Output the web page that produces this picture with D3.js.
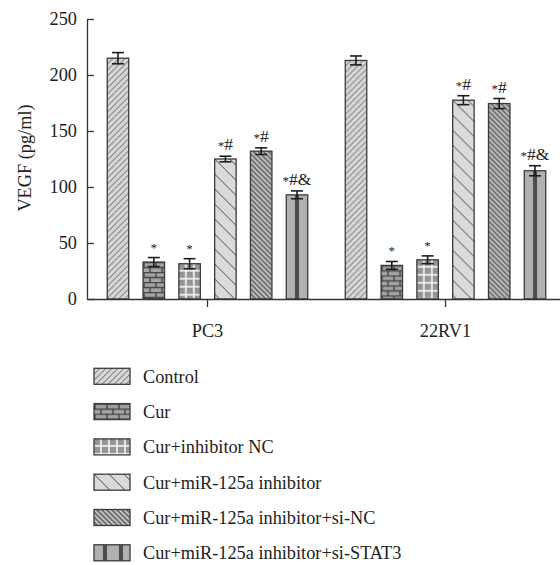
<!DOCTYPE html>
<html><head><meta charset="utf-8">
<script src="https://cdn.jsdelivr.net/npm/d3@7"></script>
<style>body{margin:0;background:#fff}</style></head><body>
<svg id="c" width="560" height="565"></svg>
<script>
const groups = ["PC3", "22RV1"];
const series = ["Control", "Cur", "Cur+inhibitor NC", "Cur+miR-125a inhibitor",
  "Cur+miR-125a inhibitor+si-NC", "Cur+miR-125a inhibitor+si-STAT3"];
const valuesPC3 = [215, 33, 31.5, 125, 132, 93];
const values22RV1 = [213, 30, 35, 177.5, 174.5, 114.5];
const errorsPC3 = [5, 4, 4.5, 2.5, 3, 3.5];
const errors22RV1 = [4, 3.5, 3.5, 4, 4.5, 4.5];
const marks = ["", "*", "*", "*#", "*#", "*#&"];
const yTicks = [0, 50, 100, 150, 200, 250];

const FONT = "'Liberation Serif','Times New Roman',serif";
const FS = 18.3;
const svg = d3.select("#c");
const defs = svg.append("defs");

const rows = [];
groups.forEach((g, gi) => {
  const vals = gi === 0 ? valuesPC3 : values22RV1;
  const errs = gi === 0 ? errorsPC3 : errors22RV1;
  series.forEach((s, si) => rows.push({group: g, series: s, si, value: vals[si], err: errs[si], mark: marks[si]}));
});

const y = d3.scaleLinear().domain([0, 250]).range([299, 19]);
const x0 = d3.scaleBand().domain(groups).range([87, 566]).paddingInner(0.0975).paddingOuter(0.055);
const x1 = d3.scaleBand().domain(series).range([0, x0.bandwidth()]).paddingInner(0.4).paddingOuter(0.2);

// pattern factory
function makePattern(id, kind, ox, oy) {
  const specs = [
    {w: 6, h: 6}, {w: 12, h: 10}, {w: 8, h: 8}, {w: 15, h: 15}, {w: 5, h: 5}, {w: 16, h: 10}
  ];
  const sp = specs[kind];
  const p = defs.append("pattern").attr("id", id).attr("patternUnits", "userSpaceOnUse")
    .attr("x", ox).attr("y", oy).attr("width", sp.w).attr("height", sp.h);
  if (kind === 0) {
    p.append("rect").attr("width", 6).attr("height", 6).attr("fill", "#d6d6d6");
    p.append("path").attr("d", "M-1,7 L7,-1 M-1,1 L1,-1 M5,7 L7,5").attr("stroke", "#585858").attr("stroke-width", 0.9);
  } else if (kind === 1) {
    p.append("rect").attr("width", 12).attr("height", 10).attr("fill", "#a4a4a4");
    p.append("path").attr("d", "M0,0.5 H12 M0,5.5 H12 M1,0 V5.5 M7,5.5 V10").attr("stroke", "#454545").attr("stroke-width", 1.4);
  } else if (kind === 2) {
    p.append("rect").attr("width", 8).attr("height", 8).attr("fill", "#959595");
    p.append("path").attr("d", "M7,0 V8 M0,7 H8").attr("stroke", "#ffffff").attr("stroke-width", 1.5);
  } else if (kind === 3) {
    p.append("rect").attr("width", 15).attr("height", 15).attr("fill", "#dadada");
    p.append("path").attr("d", "M-1,-1 L16,16 M14,-1 L16,1 M-1,14 L1,16").attr("stroke", "#4a4a4a").attr("stroke-width", 1);
  } else if (kind === 4) {
    p.append("rect").attr("width", 5).attr("height", 5).attr("fill", "#6e6e6e");
    p.append("path").attr("d", "M-1,-1 L6,6 M4,-1 L6,1 M-1,4 L1,6").attr("stroke", "#f2f2f2").attr("stroke-width", 1.2);
  } else {
    p.append("rect").attr("width", 16).attr("height", 10).attr("fill", "#b0b0b0");
    p.append("rect").attr("x", 6).attr("width", 4).attr("height", 10).attr("fill", "#4d4d4d");
  }
  return "url(#" + id + ")";
}

// bars
const barG = svg.append("g");
rows.forEach((d, i) => {
  const bx = x0(d.group) + x1(d.series);
  const bw = x1.bandwidth();
  const fill = makePattern("pb" + i, d.si, d.si === 5 ? bx + bw / 2 - 8 : bx, y(d.value));
  barG.append("rect").attr("x", bx).attr("y", y(d.value)).attr("width", bw)
    .attr("height", y(0) - y(d.value)).attr("fill", fill)
    .attr("stroke", "#3a3a3a").attr("stroke-width", 1.3);
  const cx = bx + bw / 2;
  const eg = barG.append("g").attr("stroke", "#1e1e1e").attr("stroke-width", 1.6);
  eg.append("line").attr("x1", cx).attr("x2", cx).attr("y1", y(d.value - d.err)).attr("y2", y(d.value + d.err));
  eg.append("line").attr("x1", cx - 6).attr("x2", cx + 6).attr("y1", y(d.value + d.err)).attr("y2", y(d.value + d.err));
  eg.append("line").attr("x1", cx - 6).attr("x2", cx + 6).attr("y1", y(d.value - d.err)).attr("y2", y(d.value - d.err));
  if (d.mark) {
    const t = barG.append("text").attr("x", cx).attr("y", y(d.value + d.err) - 6)
      .attr("text-anchor", "middle").attr("font-family", FONT).attr("font-size", 17.5).attr("fill", "#222");
    d.mark.split("").forEach(ch => {
      if (ch === "*") t.append("tspan").attr("font-size", 13).text("*");
      else t.append("tspan").text(ch);
    });
  }
});

// y axis
const yAxis = d3.axisLeft(y).tickValues(yTicks).tickSizeInner(-7).tickSizeOuter(0).tickPadding(10);
const yg = svg.append("g").attr("transform", "translate(87,0)").call(yAxis);
yg.selectAll("path,line").attr("stroke", "#333").attr("stroke-width", 1.3);
yg.selectAll("text").attr("font-family", FONT).attr("font-size", FS).attr("fill", "#222");

// x axis
const xAxis = d3.axisBottom(x0).tickSizeInner(8).tickSizeOuter(0).tickPadding(17);
const xg = svg.append("g").attr("transform", "translate(0,299)").call(xAxis);
xg.selectAll("path,line").attr("stroke", "#333").attr("stroke-width", 1.3);
xg.selectAll("text").attr("font-family", FONT).attr("font-size", FS).attr("fill", "#222");

// y title
svg.append("text").attr("transform", "translate(31,158) rotate(-90)").attr("text-anchor", "middle")
  .attr("font-family", FONT).attr("font-size", FS).attr("fill", "#222").text("VEGF (pg/ml)");

// legend
const lg = svg.append("g");
series.forEach((s, i) => {
  const top = 368.3 + i * 35.3;
  const fill = makePattern("pl" + i, i, i === 5 ? 94 + 3 : 94, top);
  lg.append("rect").attr("x", 94).attr("y", top).attr("width", 36).attr("height", 16)
    .attr("fill", fill).attr("stroke", "#3a3a3a").attr("stroke-width", 1.3);
  lg.append("text").attr("x", 143).attr("y", top + 8).attr("dy", "0.35em")
    .attr("font-family", FONT).attr("font-size", FS).attr("fill", "#222").text(s);
});
</script>
</body></html>
